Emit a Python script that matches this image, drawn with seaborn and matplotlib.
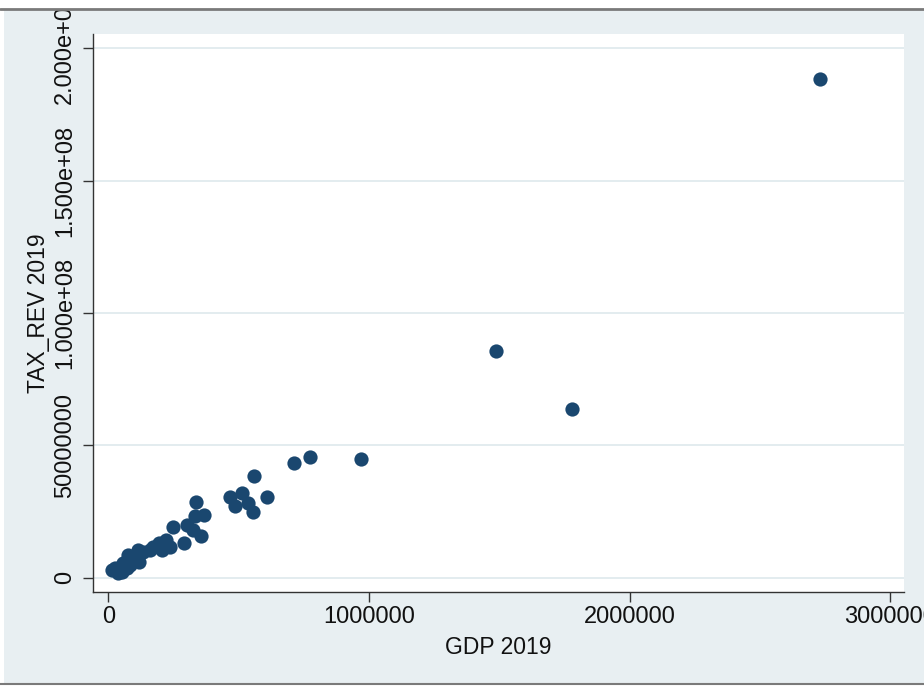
import matplotlib
matplotlib.use("Agg")
import matplotlib.pyplot as plt
from matplotlib.patches import Rectangle
from matplotlib.lines import Line2D
import seaborn as sns
import pandas as pd

# GDP and tax revenue, 2019
gdp_2019 = [2731000, 1487700, 1779400, 969700, 774000, 712600, 559100, 609000,
            467000, 513000, 486200, 536100, 555300, 336500, 367200, 332700,
            302000, 325000, 355700, 290500, 248300, 221400, 194600, 236800,
            206100, 160000, 133200, 114000, 75600, 117800, 83300, 56400,
            25700, 52600, 71800, 37200, 171500, 90900, 14200]
tax_rev_2019 = [188400000, 85640000, 63730000, 44840000, 45600000, 43330000,
                38420000, 30490000, 30490000, 32000000, 27090000, 28220000,
                24820000, 28600000, 23690000, 23310000, 19910000, 18020000,
                15750000, 13110000, 19150000, 14240000, 13110000, 11600000,
                10460000, 10460000, 9710000, 10460000, 8580000, 5930000,
                4800000, 5550000, 3660000, 2150000, 3660000, 1780000,
                11600000, 7440000, 2910000]

x_ticks = [0, 1000000, 2000000, 3000000]
x_tick_labels = ["0", "1000000", "2000000", "3000000"]
y_ticks = [0, 50000000, 100000000, 150000000, 200000000]
y_tick_labels = ["0", "50000000", "1.000e+08", "1.500e+08", "2.000e+08"]

df = pd.DataFrame({"GDP 2019": gdp_2019, "TAX_REV 2019": tax_rev_2019})

sns.set_theme(style="white")
plt.rcParams["font.family"] = ["Liberation Sans", "DejaVu Sans"]

BG = "#e8eff2"
NAVY = "#1a476f"

fig = plt.figure(figsize=(9.24, 6.86), dpi=100, facecolor="white")

# graph region background with frame lines
fig.patches.append(Rectangle((4 / 924, 3 / 686), 1 - 4 / 924, 673 / 686,
                             transform=fig.transFigure, facecolor=BG,
                             edgecolor="none", zorder=-1))

ax = fig.add_axes([93 / 924, 1 - 592 / 686, 811 / 924, 558 / 686])
ax.set_facecolor("white")

sns.scatterplot(data=df, x="GDP 2019", y="TAX_REV 2019", ax=ax,
                color=NAVY, s=105, linewidth=0, alpha=1, zorder=3)

ax.set_xlim(-58700, 3053000)
ax.set_ylim(-5400000, 205400000)

ax.set_xticks(x_ticks)
ax.set_xticklabels(x_tick_labels, fontsize=17, color="#111111")
ax.set_yticks(y_ticks)
ax.set_yticklabels(y_tick_labels, fontsize=17, color="#111111",
                   rotation=90, va="center")

ax.grid(axis="y", color="#e1eaee", linewidth=1.3, zorder=0)
ax.grid(axis="x", visible=False)

for side in ("top", "right"):
    ax.spines[side].set_visible(False)
for side in ("left", "bottom"):
    ax.spines[side].set_color("#333333")
    ax.spines[side].set_linewidth(1.0)

ax.tick_params(axis="both", direction="out", length=7, width=1.0,
               color="#333333", left=True, bottom=True)
ax.tick_params(axis="y", pad=5)
ax.tick_params(axis="x", pad=3)

ax.set_xlabel("GDP 2019", fontsize=16.5, color="#111111", labelpad=6)
ax.set_ylabel("TAX_REV 2019", fontsize=16.5, color="#111111", labelpad=3)

# white margin and frame lines drawn over the top edge
fig.patches.append(Rectangle((0, 1 - 8 / 686), 1, 8 / 686,
                             transform=fig.transFigure, facecolor="white",
                             edgecolor="none", zorder=10))
fig.lines.append(Line2D([0, 1], [1 - 9 / 686, 1 - 9 / 686],
                        transform=fig.transFigure, color="#7a7a7a",
                        linewidth=2.0, zorder=11))
fig.lines.append(Line2D([0, 1], [2 / 686, 2 / 686],
                        transform=fig.transFigure, color="#7a7a7a",
                        linewidth=1.5, zorder=11))

fig.savefig("out.png", dpi=100, facecolor="white")
